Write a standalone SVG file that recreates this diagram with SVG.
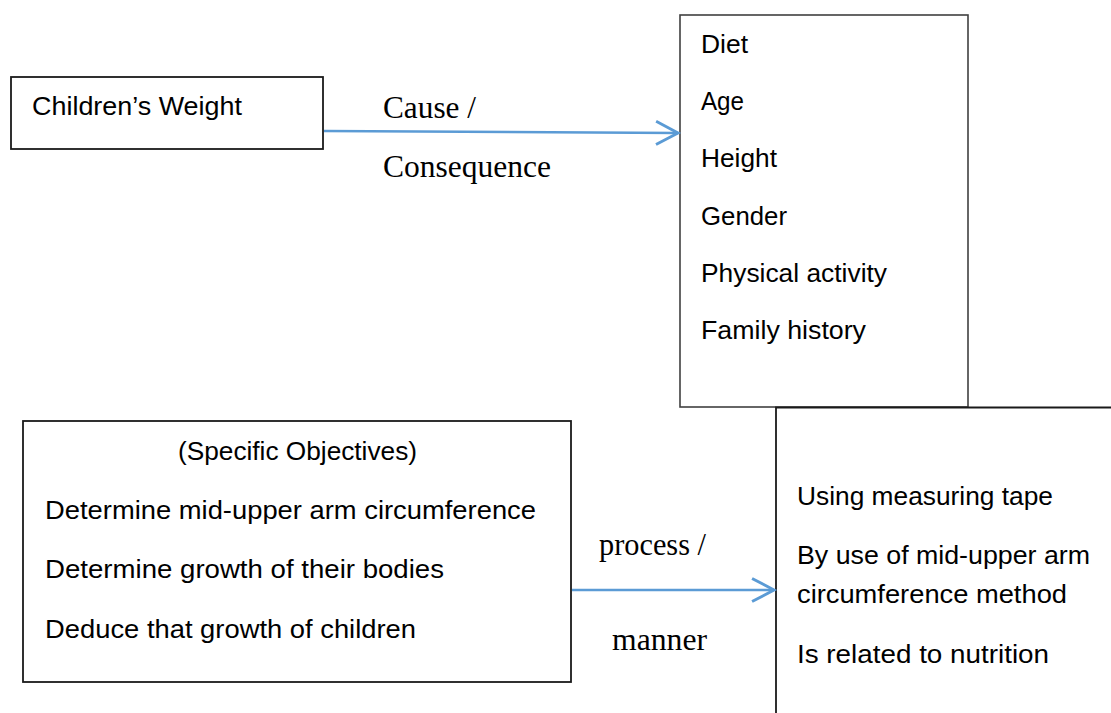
<svg xmlns="http://www.w3.org/2000/svg" width="1111" height="713" viewBox="0 0 1111 713">
<style>
.box{fill:#fff;stroke:#1a1a1a;stroke-width:1.8}
.edge{fill:none;stroke:#404040;stroke-width:1.6}
.t{font-family:"Liberation Sans",Arial,sans-serif;font-size:26px;fill:#000}
.s{font-family:"Liberation Serif","Times New Roman",serif;font-size:31px;fill:#000}
.c{fill:none;stroke:#5B9BD5;stroke-width:2.5}
</style>
<defs>
<marker id="arr" markerUnits="userSpaceOnUse" markerWidth="30" markerHeight="30" viewBox="-22 -13 26 26" refX="0" refY="0" orient="auto">
<path d="M-19,-10 L0,0 L-19,10" fill="none" stroke="#5B9BD5" stroke-width="2.5"/>
</marker>
</defs>
<rect width="1111" height="713" fill="#fff"/>
<g id="weight">
<rect class="box" x="11" y="77" width="312" height="72"/>
<text class="t" x="32" y="115" textLength="210" lengthAdjust="spacingAndGlyphs">Children’s Weight</text>
</g>
<g id="factors">
<rect class="edge" x="680" y="15" width="288" height="392" fill="#fff"/>
<text class="t" x="701" y="53" textLength="47" lengthAdjust="spacingAndGlyphs">Diet</text>
<text class="t" x="701" y="110" textLength="43" lengthAdjust="spacingAndGlyphs">Age</text>
<text class="t" x="701" y="167" textLength="76" lengthAdjust="spacingAndGlyphs">Height</text>
<text class="t" x="701" y="225" textLength="86" lengthAdjust="spacingAndGlyphs">Gender</text>
<text class="t" x="701" y="282" textLength="186" lengthAdjust="spacingAndGlyphs">Physical activity</text>
<text class="t" x="701" y="339" textLength="165" lengthAdjust="spacingAndGlyphs">Family history</text>
</g>
<g id="objectives">
<rect class="box" x="23" y="421" width="548" height="261"/>
<text class="t" x="178" y="460" textLength="239" lengthAdjust="spacingAndGlyphs">(Specific Objectives)</text>
<text class="t" x="45" y="519" textLength="491" lengthAdjust="spacingAndGlyphs">Determine mid-upper arm circumference</text>
<text class="t" x="45" y="578" textLength="399" lengthAdjust="spacingAndGlyphs">Determine growth of their bodies</text>
<text class="t" x="45" y="638" textLength="371" lengthAdjust="spacingAndGlyphs">Deduce that growth of children</text>
</g>
<g id="methods">
<path d="M776,713 V407.5 H1111" fill="none" stroke="#1a1a1a" stroke-width="1.8"/>
<text class="t" x="797" y="505" textLength="256" lengthAdjust="spacingAndGlyphs">Using measuring tape</text>
<text class="t" x="797" y="564" textLength="293" lengthAdjust="spacingAndGlyphs">By use of mid-upper arm</text>
<text class="t" x="797" y="603" textLength="270" lengthAdjust="spacingAndGlyphs">circumference method</text>
<text class="t" x="797" y="663" textLength="252" lengthAdjust="spacingAndGlyphs">Is related to nutrition</text>
</g>
<g id="connectors">
<line class="c" x1="324" y1="131" x2="678" y2="133" marker-end="url(#arr)"/>
<line class="c" x1="572" y1="590" x2="774" y2="590" marker-end="url(#arr)"/>
<text class="s" x="383" y="118" textLength="93" lengthAdjust="spacingAndGlyphs">Cause /</text>
<text class="s" x="383" y="177" textLength="168" lengthAdjust="spacingAndGlyphs">Consequence</text>
<text class="s" x="599" y="555" textLength="107" lengthAdjust="spacingAndGlyphs">process /</text>
<text class="s" x="612" y="650" textLength="95" lengthAdjust="spacingAndGlyphs">manner</text>
</g>
</svg>
